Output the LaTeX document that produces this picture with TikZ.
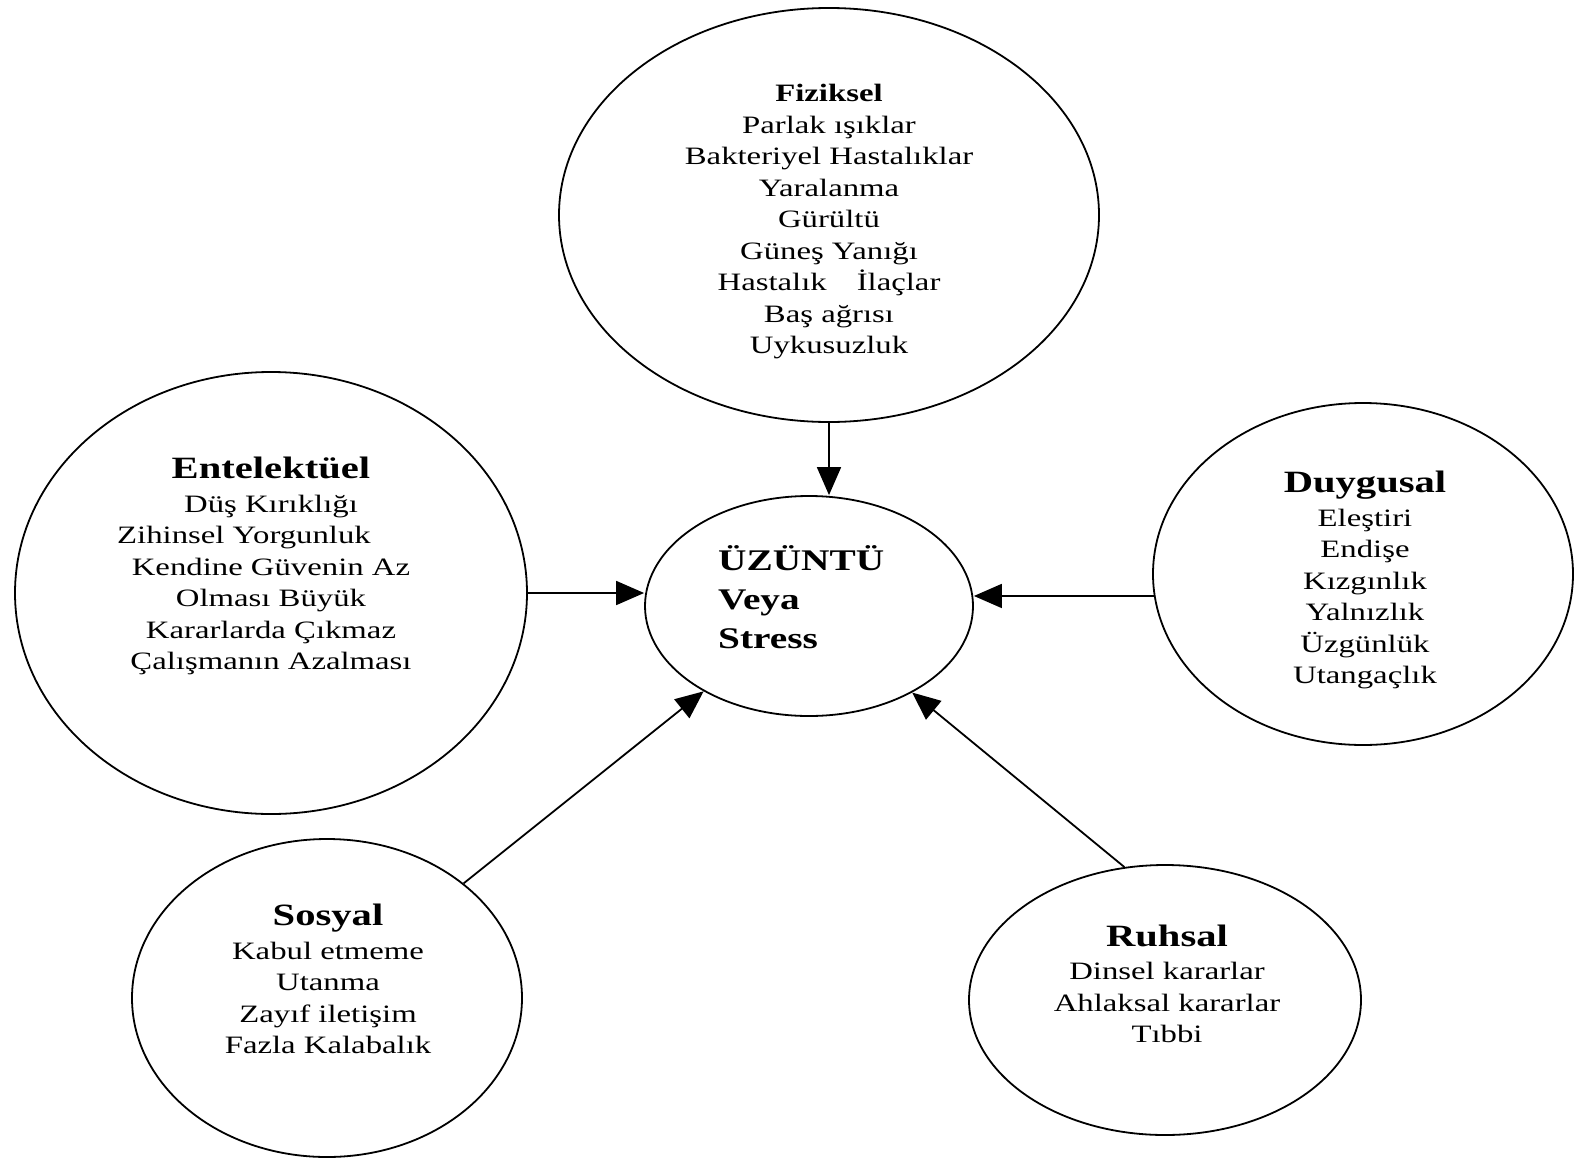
\documentclass[tikz,border=0pt]{standalone}
\usepackage{fontspec}
\setmainfont{Liberation Serif}[FakeStretch=1.31]
\usetikzlibrary{arrows.meta,shapes.geometric}
\tikzset{
  oval/.style={draw, ellipse, line width=1.8pt, inner sep=0pt},
  body/.style={align=center, inner sep=0pt, font=\fontsize{25}{31.5}\selectfont},
  arr/.style={line width=1.8pt, -{Triangle[length=28pt,width=24pt]}}
}
\newcommand{\hdr}[1]{{\fontsize{31}{31.5}\selectfont\bfseries #1}}
\begin{document}
\begin{tikzpicture}[x=1pt,y=-1pt]
\useasboundingbox (0,0) rectangle (1585,1159);
\fill[white] (0,0) rectangle (1585,1159);
% ellipses
\node[oval, minimum width=540pt, minimum height=414pt] (fiz) at (829,215) {};
\node[oval, minimum width=328pt, minimum height=220pt] (ctr) at (809,606) {};
\node[oval, minimum width=512pt, minimum height=442pt] (ent) at (271,593) {};
\node[oval, minimum width=420pt, minimum height=342pt] (duy) at (1363,574) {};
\node[oval, minimum width=390pt, minimum height=318pt] (sos) at (327,998) {};
\node[oval, minimum width=392pt, minimum height=270pt] (ruh) at (1165,1000) {};
% texts
\node[body] (fiztxt) at (829,222) {\textbf{Fiziksel}\\Parlak ışıklar\\Bakteriyel Hastalıklar\\Yaralanma\\Gürültü\\Güneş Yanığı\\Hastalık\hspace{1.2em}İlaçlar\\Baş ağrısı\\Uykusuzluk};
\node[body] (enttxt) at (271,566) {\hdr{Entelektüel}\\[2pt]Düş Kırıklığı\\Zihinsel Yorgunluk\rule{54pt}{0pt}\\Kendine Güvenin Az\\Olması Büyük\\Kararlarda Çıkmaz\\Çalışmanın Azalması};
\node[body] (duytxt) at (1365,580) {\hdr{Duygusal}\\[2pt]Eleştiri\\Endişe\\Kızgınlık\\Yalnızlık\\Üzgünlük\\Utangaçlık};
\node[body] (sostxt) at (328,979) {\hdr{Sosyal}\\[2pt]Kabul etmeme\\Utanma\\Zayıf iletişim\\Fazla Kalabalık};
\node[body] (ruhtxt) at (1167,984) {\hdr{Ruhsal}\\[2pt]Dinsel kararlar\\Ahlaksal kararlar\\Tıbbi};
\node[align=left, inner sep=0pt, anchor=west, font=\fontsize{30}{39}\selectfont\bfseries] (ctrtxt) at (718,597) {ÜZÜNTÜ\\Veya\\Stress};
% connectors
\draw[arr] (fiz.south) -- (fiz.south |- ctr.north);
\draw[arr] (ent.east) -- (ent.east -| ctr.west);
\draw[arr] (duy.186) -- (duy.186 -| ctr.east);
\draw[arr] (sos.40) -- (ctr.219);
\draw[arr] (ruh.107) -- (ctr.320);
\end{tikzpicture}
\end{document}
